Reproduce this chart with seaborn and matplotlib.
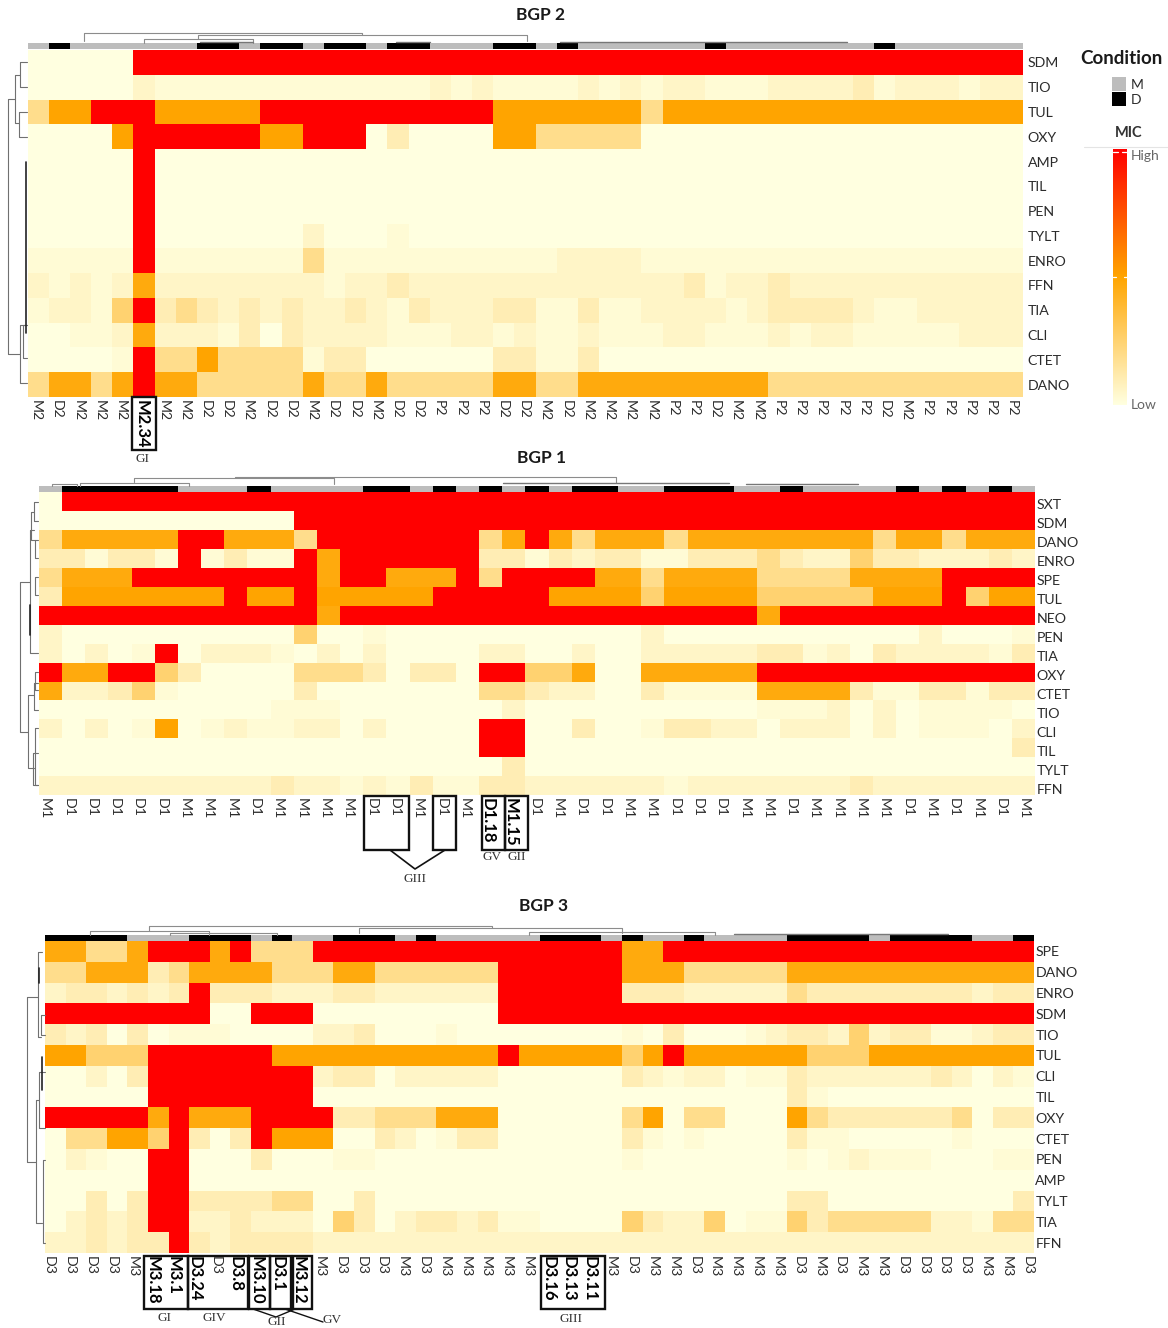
import numpy as np
import pandas as pd
import matplotlib
matplotlib.use('Agg')
import matplotlib.pyplot as plt
from matplotlib.colors import LinearSegmentedColormap, ListedColormap
from matplotlib.patches import Rectangle
from matplotlib.transforms import ScaledTranslation
import seaborn as sns

# MIC level codes: 0 palest ... 7 orange, 9 red
mic_levels = [0, 0.025, 0.055, 0.1, 0.19, 0.25, 0.47, 0.5, 0.75, 1.0]

# ---- BGP 2
bgp2_rows = ['SDM', 'TIO', 'TUL', 'OXY', 'AMP', 'TIL', 'PEN', 'TYLT', 'ENRO', 'FFN', 'TIA', 'CLI', 'CTET', 'DANO']
bgp2_labels = ['M2', 'D2', 'M2', 'M2', 'M2', 'M2.34', 'M2', 'M2', 'D2', 'D2', 'M2', 'D2', 'D2', 'M2', 'D2', 'D2',
               'M2', 'D2', 'D2', 'P2', 'P2', 'P2', 'D2', 'D2', 'M2', 'D2', 'M2', 'M2', 'M2', 'M2', 'P2', 'P2',
               'D2', 'M2', 'M2', 'P2', 'P2', 'P2', 'P2', 'P2', 'D2', 'M2', 'P2', 'P2', 'P2', 'P2', 'P2']
bgp2_sdm = [0,0,0,0,0,9,9,9,9,9, 9,9,9,9,9,9,9,9,9,9, 9,9,9,9,9,9,9,9,9,9, 9,9,9,9,9,9,9,9,9,9, 9,9,9,9,9,9,9]
bgp2_tio = [0,0,0,0,0,2,1,1,1,1, 1,1,1,1,1,1,1,1,1,2, 1,2,1,1,1,1,2,1,2,1, 2,2,1,1,1,2,2,2,2,3, 1,2,2,2,1,2,2]
bgp2_tul = [4,7,7,9,9,9,7,7,7,7, 7,9,9,9,9,9,9,9,9,9, 9,9,7,7,7,7,7,7,7,4, 7,7,7,7,7,7,7,7,7,7, 7,7,7,7,7,7,7]
bgp2_oxy = [0,0,0,0,7,9,9,9,9,9, 9,7,7,9,9,9,0,3,0,0, 0,0,7,7,4,4,4,4,4,0, 0,0,0,0,0,0,0,0,0,0, 0,0,0,0,0,0,0]
bgp2_amp = [0,0,0,0,0,9,0,0,0,0, 0,0,0,0,0,0,0,0,0,0, 0,0,0,0,0,0,0,0,0,0, 0,0,0,0,0,0,0,0,0,0, 0,0,0,0,0,0,0]
bgp2_til = [0,0,0,0,0,9,0,0,0,0, 0,0,0,0,0,0,0,0,0,0, 0,0,0,0,0,0,0,0,0,0, 0,0,0,0,0,0,0,0,0,0, 0,0,0,0,0,0,0]
bgp2_pen = [0,0,0,0,0,9,0,0,0,0, 0,0,0,0,0,0,0,0,0,0, 0,0,0,0,0,0,0,0,0,0, 0,0,0,0,0,0,0,0,0,0, 0,0,0,0,0,0,0]
bgp2_tylt = [0,0,0,0,0,9,0,0,0,0, 0,0,0,2,0,0,0,1,0,0, 0,0,0,0,0,0,0,0,0,0, 0,0,0,0,0,0,0,0,0,0, 0,0,0,0,0,0,0]
bgp2_enro = [1,1,1,1,1,9,1,1,1,1, 1,1,1,4,1,1,1,1,1,1, 1,1,1,1,1,2,2,2,2,1, 1,1,1,1,1,1,1,1,1,1, 1,1,1,1,1,1,1]
bgp2_ffn = [2,1,2,1,2,6,2,2,2,2, 2,2,2,2,1,2,2,3,2,2, 2,2,2,2,2,2,2,2,2,2, 2,3,1,2,2,3,2,2,2,2, 2,2,2,2,2,2,2]
bgp2_tia = [1,2,2,1,5,9,3,4,3,2, 3,2,3,2,2,3,2,1,3,2, 2,2,3,3,1,1,3,1,1,2, 2,2,2,1,2,3,3,3,3,2, 1,1,2,2,2,2,2]
bgp2_cli = [0,0,1,1,2,6,2,2,2,1, 3,0,3,2,2,2,2,1,1,1, 2,2,1,2,1,1,2,1,1,1, 2,2,1,1,1,2,1,2,2,1, 1,1,1,1,2,2,2]
bgp2_ctet = [0,0,0,0,1,9,4,4,7,4, 4,4,4,1,3,3,0,0,0,0, 0,0,3,3,1,1,3,0,0,0, 0,0,0,0,0,0,0,0,0,0, 0,0,0,0,0,0,0]
bgp2_dano = [4,6,6,4,6,9,6,6,4,4, 4,4,4,6,4,4,6,4,4,4, 4,4,6,6,4,4,6,6,6,6, 6,6,6,6,6,4,4,4,4,4, 4,4,4,4,4,4,4]
bgp2_data = [bgp2_sdm, bgp2_tio, bgp2_tul, bgp2_oxy, bgp2_amp, bgp2_til, bgp2_pen, bgp2_tylt,
             bgp2_enro, bgp2_ffn, bgp2_tia, bgp2_cli, bgp2_ctet, bgp2_dano]

# ---- BGP 1
bgp1_rows = ['SXT', 'SDM', 'DANO', 'ENRO', 'SPE', 'TUL', 'NEO', 'PEN', 'TIA', 'OXY', 'CTET', 'TIO', 'CLI', 'TIL', 'TYLT', 'FFN']
bgp1_labels = ['M1', 'D1', 'D1', 'D1', 'D1', 'D1', 'M1', 'M1', 'M1', 'D1', 'M1', 'M1', 'M1', 'M1', 'D1', 'D1', 'M1',
               'D1', 'M1', 'D1.18', 'M1.15', 'D1', 'M1', 'D1', 'D1', 'M1', 'M1', 'D1', 'D1', 'D1', 'M1', 'M1', 'D1',
               'M1', 'M1', 'M1', 'M1', 'D1', 'M1', 'D1', 'M1', 'D1', 'M1']
bgp1_sxt = [0,9,9,9,9,9,9,9,9,9, 9,9,9,9,9,9,9,9,9,9, 9,9,9,9,9,9,9,9,9,9, 9,9,9,9,9,9,9,9,9,9, 9,9,9]
bgp1_sdm = [0,0,0,0,0,0,0,0,0,0, 0,9,9,9,9,9,9,9,9,9, 9,9,9,9,9,9,9,9,9,9, 9,9,9,9,9,9,9,9,9,9, 9,9,9]
bgp1_dano = [4,6,6,6,6,6,9,9,6,6, 6,4,9,9,9,9,9,9,9,4, 6,9,6,4,6,6,6,4,6,6, 6,6,6,6,6,6,4,6,6,4, 6,6,6]
bgp1_enro = [3,3,1,3,3,1,9,1,3,1, 1,9,6,9,9,9,9,9,9,3, 3,1,3,2,3,3,1,1,3,3, 3,4,3,2,2,5,3,3,2,2, 2,3,2]
bgp1_spe = [4,6,6,6,9,9,9,9,9,9, 9,9,6,9,9,6,6,6,9,4, 9,9,9,9,6,6,4,6,6,6, 6,4,4,4,4,6,6,6,6,9, 9,9,9]
bgp1_tul = [3,7,7,7,7,7,7,7,9,7, 7,9,7,7,7,7,7,9,9,9, 9,9,7,7,7,7,5,7,7,7, 7,5,5,5,5,5,7,7,7,9, 5,7,7]
bgp1_neo = [9,9,9,9,9,9,9,9,9,9, 9,9,6,9,9,9,9,9,9,9, 9,9,9,9,9,9,9,9,9,9, 9,6,9,9,9,9,9,9,9,9, 9,9,9]
bgp1_pen = [2,0,0,0,0,0,0,0,0,0, 0,5,0,0,1,0,0,0,0,0, 0,0,0,0,0,0,2,0,0,0, 0,0,0,0,0,0,0,0,2,0, 0,0,1]
bgp1_tia = [2,0,2,0,1,9,0,2,2,2, 1,0,2,0,2,0,0,0,0,2, 2,0,0,2,0,0,2,2,2,2, 2,3,3,1,2,0,3,2,2,2, 2,1,3]
bgp1_oxy = [9,6,6,9,9,5,3,0,0,0, 0,4,4,4,3,0,3,3,0,9, 9,5,5,6,0,0,6,6,6,6, 6,9,9,9,9,9,9,9,9,9, 9,9,9]
bgp1_ctet = [6,2,2,3,5,1,0,0,0,0, 0,3,0,0,0,0,0,0,0,4, 4,3,2,2,0,0,3,1,1,1, 1,6,6,6,6,3,1,1,3,3, 1,3,3]
bgp1_tio = [0,0,0,0,0,0,0,0,0,0, 1,1,1,0,0,0,0,0,0,0, 2,0,0,0,0,0,0,0,0,0, 0,1,1,1,2,0,2,0,1,1, 1,1,0]
bgp1_cli = [2,0,2,0,1,7,0,1,2,1, 1,2,2,0,2,0,0,0,0,9, 9,0,0,3,0,0,1,3,3,2, 2,0,2,2,2,0,2,0,1,1, 1,0,2]
bgp1_til = [0,0,0,0,0,0,0,0,0,0, 0,0,0,0,0,0,0,0,0,9, 9,0,0,0,0,0,0,0,0,0, 0,0,0,0,0,0,0,0,0,0, 0,0,3]
bgp1_tylt = [0,0,0,0,0,0,0,0,0,0, 0,0,0,0,0,0,0,0,0,0, 3,0,0,0,0,0,0,0,0,0, 0,0,0,0,0,0,0,0,0,0, 0,0,0]
bgp1_ffn = [2,2,2,2,2,2,2,2,2,2, 3,2,2,1,2,1,3,1,1,3, 3,2,2,2,2,2,2,1,2,2, 2,2,2,2,2,3,2,2,2,2, 2,2,2]
bgp1_data = [bgp1_sxt, bgp1_sdm, bgp1_dano, bgp1_enro, bgp1_spe, bgp1_tul, bgp1_neo, bgp1_pen,
             bgp1_tia, bgp1_oxy, bgp1_ctet, bgp1_tio, bgp1_cli, bgp1_til, bgp1_tylt, bgp1_ffn]

# ---- BGP 3
bgp3_rows = ['SPE', 'DANO', 'ENRO', 'SDM', 'TIO', 'TUL', 'CLI', 'TIL', 'OXY', 'CTET', 'PEN', 'AMP', 'TYLT', 'TIA', 'FFN']
bgp3_labels = ['D3', 'D3', 'D3', 'D3', 'M3', 'M3.18', 'M3.1', 'D3.24', 'D3', 'D3.8', 'M3.10', 'D3.1', 'M3.12', 'M3',
               'D3', 'D3', 'D3', 'M3', 'D3', 'M3', 'M3', 'M3', 'M3', 'M3', 'D3.16', 'D3.13', 'D3.11', 'M3', 'D3', 'M3',
               'M3', 'D3', 'M3', 'M3', 'M3', 'M3', 'D3', 'M3', 'D3', 'M3', 'M3', 'D3', 'D3', 'D3', 'D3', 'M3', 'M3', 'D3']
bgp3_spe = [6,6,4,4,6,9,9,9,6,9, 4,4,4,9,9,9,9,9,9,9, 9,9,9,9,9,9,9,9,6,6, 9,9,9,9,9,9,9,9,9,9, 9,9,9,9,9,9,9,9]
bgp3_dano = [4,4,6,6,6,3,4,6,6,6, 6,4,4,4,6,6,4,4,4,4, 4,4,9,9,9,9,9,9,6,6, 6,4,4,4,4,4,6,6,6,6, 6,6,6,6,6,6,6,6]
bgp3_enro = [2,3,3,2,3,2,3,9,3,3, 3,2,2,2,3,3,2,2,2,2, 2,2,9,9,9,9,9,9,3,3, 3,2,2,2,2,2,4,3,3,3, 3,3,3,3,3,2,3,3]
bgp3_sdm = [9,9,9,9,9,9,9,9,0,0, 9,9,9,0,0,0,0,0,0,0, 0,0,9,9,9,9,9,9,9,9, 9,9,9,9,9,9,9,9,9,9, 9,9,9,9,9,9,9,9]
bgp3_tio = [3,2,3,0,3,0,1,1,1,0, 0,0,0,2,2,3,0,0,0,1, 0,0,0,0,0,0,0,0,1,0, 3,0,0,0,1,2,3,3,2,5, 2,3,3,1,1,2,3,3]
bgp3_tul = [7,7,5,5,5,9,9,9,9,9, 9,7,7,7,7,7,7,7,7,7, 7,7,9,7,7,7,7,7,5,7, 9,7,7,7,7,7,7,5,5,5, 7,7,7,7,7,7,7,7]
bgp3_cli = [0,0,2,0,3,9,9,9,9,9, 9,9,9,2,3,3,0,2,2,2, 2,2,0,0,0,0,0,0,3,2, 1,2,2,0,1,1,3,2,2,2, 2,2,2,3,2,0,2,1]
bgp3_til = [0,0,0,0,0,9,9,9,9,9, 9,9,9,0,0,0,0,0,0,0, 0,0,0,0,0,0,0,0,0,0, 0,0,0,0,0,0,3,1,0,0, 0,0,0,0,0,0,0,0]
bgp3_oxy = [9,9,9,9,9,6,9,6,6,6, 9,9,9,9,3,3,4,4,4,6, 6,6,0,0,0,0,0,0,4,7, 0,4,4,0,0,0,7,4,3,3, 3,3,3,3,4,0,3,3]
bgp3_ctet = [0,4,4,7,7,5,9,3,0,3, 9,7,7,7,0,0,3,2,0,1, 3,3,0,0,0,0,0,0,3,1, 0,1,0,0,0,0,3,1,1,0, 0,0,0,0,1,0,0,0]
bgp3_pen = [0,2,1,0,0,9,9,0,0,0, 3,0,0,0,1,1,0,0,0,0, 0,0,0,0,0,0,0,0,1,0, 0,0,0,0,0,0,1,0,1,2, 1,1,1,0,0,0,1,1]
bgp3_amp = [0,0,0,0,0,9,9,0,0,0, 0,0,0,0,0,0,0,0,0,0, 0,0,0,0,0,0,0,0,0,0, 0,0,0,0,0,0,0,0,0,0, 0,0,0,0,0,0,0,0]
bgp3_tylt = [0,0,3,0,3,9,9,3,3,3, 3,4,4,0,0,3,0,0,0,0, 0,0,0,0,0,0,0,0,0,0, 0,0,0,0,0,0,3,3,0,0, 0,0,0,0,0,0,0,3]
bgp3_tia = [0,2,3,2,3,9,9,2,2,3, 2,2,2,0,5,3,0,2,3,3, 2,3,1,1,0,0,0,0,5,3, 2,2,5,0,1,1,5,3,4,4, 4,4,4,2,2,1,4,4]
bgp3_ffn = [2,2,3,2,3,3,9,3,2,3, 3,3,3,2,2,2,2,2,2,2, 2,2,2,2,2,2,2,2,2,2, 2,2,2,2,2,2,2,2,2,2, 2,2,2,2,2,2,2,2]
bgp3_data = [bgp3_spe, bgp3_dano, bgp3_enro, bgp3_sdm, bgp3_tio, bgp3_tul, bgp3_cli, bgp3_til,
             bgp3_oxy, bgp3_ctet, bgp3_pen, bgp3_amp, bgp3_tylt, bgp3_tia, bgp3_ffn]
# the strip of BGP 3 is black over these M3 columns too
bgp3_extra_black = [37, 39]

W, H = 1168, 1328
sns.set_theme(style='white')
plt.rcParams['font.family'] = ['Lato', 'DejaVu Sans']
label_col = '#2b2b2b'

mic_cmap = LinearSegmentedColormap.from_list('mic', ['#FFFFE0', '#FFA500', '#FF0000'])
cond_cmap = ListedColormap(['#BDBDBD', '#000000'])

fig = plt.figure(figsize=(W / 100, H / 100), dpi=100)


def px_axes(x0, y0, x1, y1):
    return fig.add_axes([x0 / W, 1 - y1 / H, (x1 - x0) / W, (y1 - y0) / H])


def draw_panel(data, rows, labels, box, strip, label_span, ypad, label_dy=0, extra_black=(), cax=None):
    x0, y0, x1, y1 = box
    df = pd.DataFrame(np.array(mic_levels)[np.array(data)], index=rows, columns=range(len(labels)))
    ax = px_axes(x0, y0, x1, y1)
    sns.heatmap(df, ax=ax, cmap=mic_cmap, vmin=0, vmax=1, cbar=cax is not None, cbar_ax=cax,
                xticklabels=labels, yticklabels=rows)
    ax.yaxis.tick_right()
    ax.tick_params(axis='both', length=0)
    ax.tick_params(axis='y', pad=ypad)
    ax.tick_params(axis='x', pad=2)
    ax.set_yticklabels(rows, rotation=0, fontsize=10.2, color=label_col)

    # the tick labels in the reference spread a bit wider than the cells
    cell = (x1 - x0) / len(labels)
    ax.set_xticks(np.linspace((label_span[0] - x0) / cell, (label_span[1] - x0) / cell, len(labels)))
    ax.set_xticklabels(labels, rotation=-90, fontsize=10.2, color=label_col,
                       ha='center', va='top')
    for t, name in zip(ax.get_xticklabels(), labels):
        t.set_rotation_mode('anchor')
        t.set_ha('left')
        t.set_va('center_baseline')
        if '.' in name:
            t.set_fontweight('bold')
            t.set_fontsize(12)
            t.set_color('black')
    if label_dy:
        shift = ScaledTranslation(0, -label_dy / 100, fig.dpi_scale_trans)
        for t in ax.get_yticklabels():
            t.set_transform(t.get_transform() + shift)

    cond = [1 if n.startswith('D') or i in extra_black else 0 for i, n in enumerate(labels)]
    sax = px_axes(x0, strip[0], x1, strip[1])
    sns.heatmap(pd.DataFrame([cond]), ax=sax, cmap=cond_cmap, vmin=0, vmax=1, cbar=False,
                xticklabels=False, yticklabels=False)
    return ax


panel2 = (27.5, 50, 1022.5, 397)
panel1 = (39, 491.5, 1035, 795.5)
panel3 = (45, 941, 1034, 1253)

cax = px_axes(1113, 149, 1127, 405)
draw_panel(bgp2_data, bgp2_rows, bgp2_labels, panel2, (43, 49), (37, 1013), 3.6, cax=cax)
draw_panel(bgp1_data, bgp1_rows, bgp1_labels, panel1, (486, 491.5), (46, 1025), 1, label_dy=3)
draw_panel(bgp3_data, bgp3_rows, bgp3_labels, panel3, (935, 941), (50, 1028.5), 1, extra_black=bgp3_extra_black)

# colour key
cax.set_yticks([0.004, 0.977])
cax.set_yticklabels(['Low', 'High'], fontsize=10, color='#666666')
cax.tick_params(length=0, pad=3)
for s in cax.spines.values():
    s.set_visible(False)
cax.collections[0].set_edgecolor('face')

# overlay in pixel coordinates for titles, brackets and dendrograms
over = fig.add_axes([0, 0, 1, 1], zorder=10)
over.set_xlim(0, W)
over.set_ylim(H, 0)
over.axis('off')
over.patch.set_alpha(0)

over.text(540, 15, 'BGP 2', ha='center', va='center', fontsize=12.5, fontweight='bold', color='#1a1a1a')
over.text(542, 458, 'BGP 1', ha='center', va='center', fontsize=12.5, fontweight='bold', color='#1a1a1a')
over.text(544, 906, 'BGP 3', ha='center', va='center', fontsize=12.5, fontweight='bold', color='#1a1a1a')

over.text(1121, 58, 'Condition', ha='center', va='center', fontsize=13.5, fontweight='bold', color='#1a1a1a')
over.add_patch(Rectangle((1112, 77), 14, 14, fc='#BDBDBD', ec='none'))
over.add_patch(Rectangle((1112, 92), 14, 14, fc='black', ec='none'))
over.text(1131, 85, 'M', va='center', fontsize=10, color=label_col)
over.text(1131, 100, 'D', va='center', fontsize=10, color=label_col)
over.text(1129, 133, 'MIC', ha='center', va='center', fontsize=10.5, fontweight='bold', color='#333333')
over.plot([1084, 1168], [147, 147], color='#e4e4e4', lw=0.8)
over.plot([1113, 1118], [152, 152], color='white', lw=0.9)
over.plot([1122, 1127], [152, 152], color='white', lw=0.9)
over.plot([1113, 1116], [277, 277], color='white', lw=0.9)
over.plot([1124, 1127], [277, 277], color='white', lw=0.9)


def box(x0, x1, y0, y1):
    over.add_patch(Rectangle((x0, y0), x1 - x0, y1 - y0, fc='none', ec='#111111', lw=1.7))


def group_label(x, y, s):
    over.text(x, y, s, ha='center', va='center', fontsize=9.5, family='Liberation Serif', color='#333333')


box(132, 156, 397, 450)
group_label(142, 459, 'GI')

for x0, x1 in [(364, 409), (433, 456), (482, 505), (505, 528)]:
    box(x0, x1, 796, 850)
over.plot([390, 415, 445], [850, 869, 850], color='#111111', lw=1.2)
group_label(415, 879, 'GIII')
group_label(492, 857, 'GV')
group_label(517, 857, 'GII')

for x0, x1 in [(143.5, 188), (188, 248), (249, 270), (270, 291), (293, 312), (541, 604.5)]:
    box(x0, x1, 1256, 1309)
over.plot([253, 276, 295], [1309, 1317, 1309], color='#111111', lw=1.0)
over.plot([285, 323], [1309, 1322], color='#111111', lw=1.0)
group_label(164.5, 1318, 'GI')
group_label(214, 1318, 'GIV')
group_label(277, 1322, 'GII')
group_label(332, 1320, 'GV')
group_label(571, 1319, 'GIII')

# dendrograms, as (x0, x1, top, left foot, right foot)
col_brackets = [(84, 362, 33, 41, 35), (198, 527, 35, 39, 41), (144, 253, 39, 43, 43),
                (134, 334, 478, 482, 484), (235, 616, 477, 478, 483), (80, 189, 483, 486, 486), (52, 77, 484, 486, 486),
                (148.5, 492, 926, 931, 928), (90, 209, 931, 935, 935), (358.6, 622, 928, 933, 933), (170, 277, 933, 935, 935),
                (529, 715, 932, 935, 935)]
col_dark = [(560, 847, 42), (503, 729, 483), (746, 858, 484), (734, 948, 934), (200, 253, 41.5), (396, 430, 41.5)]
# (x, top, bottom, left-end top foot, bottom foot)
row_brackets = [(8.4, 99, 354, 15, 20), (15, 75, 123, 20, 19), (20, 62, 87, 27, 27), (19, 112, 137, 27, 27),
                (20, 325, 383, 27, 27), (23, 325, 358, 27, 27),
                (20, 582, 732, 30, 28), (30, 530, 653, 34, 38), (30.6, 512, 540, 34, 35), (34, 502, 521, 38, 38),
                (35, 540, 558, 38, 38), (34.5, 577, 595, 38, 38), (28, 695, 768, 34, 34), (35, 672, 690, 38, 38),
                (34, 683, 710, 38, 38), (34.5, 728, 785, 38, 38), (33, 753, 785, 38, 38),
                (27, 997, 1162, 38, 36), (38, 952, 1037, 42, 41), (41, 1015, 1035, 45, 45), (36, 1100, 1223, 39, 42),
                (39, 1072, 1128, 45, 45), (43, 1160, 1243, 45, 45)]
row_dark = [(26, 162, 333), (30, 605, 635), (38.5, 968, 983), (42, 1057, 1090)]

for x0, x1, top, f0, f1 in col_brackets:
    over.plot([x0, x0, x1, x1], [f0, top, top, f1], color='#8c8c8c', lw=0.8)
for x0, x1, y in col_dark:
    over.plot([x0, x1], [y, y], color='#777777', lw=1.0)
for x, y0, y1, f0, f1 in row_brackets:
    over.plot([f0, x, x, f1], [y0, y0, y1, y1], color='#707070', lw=0.8)
for x, y0, y1 in row_dark:
    over.plot([x, x], [y0, y1], color='#222222', lw=1.2)

fig.savefig('out.png', dpi=100, facecolor='white')
